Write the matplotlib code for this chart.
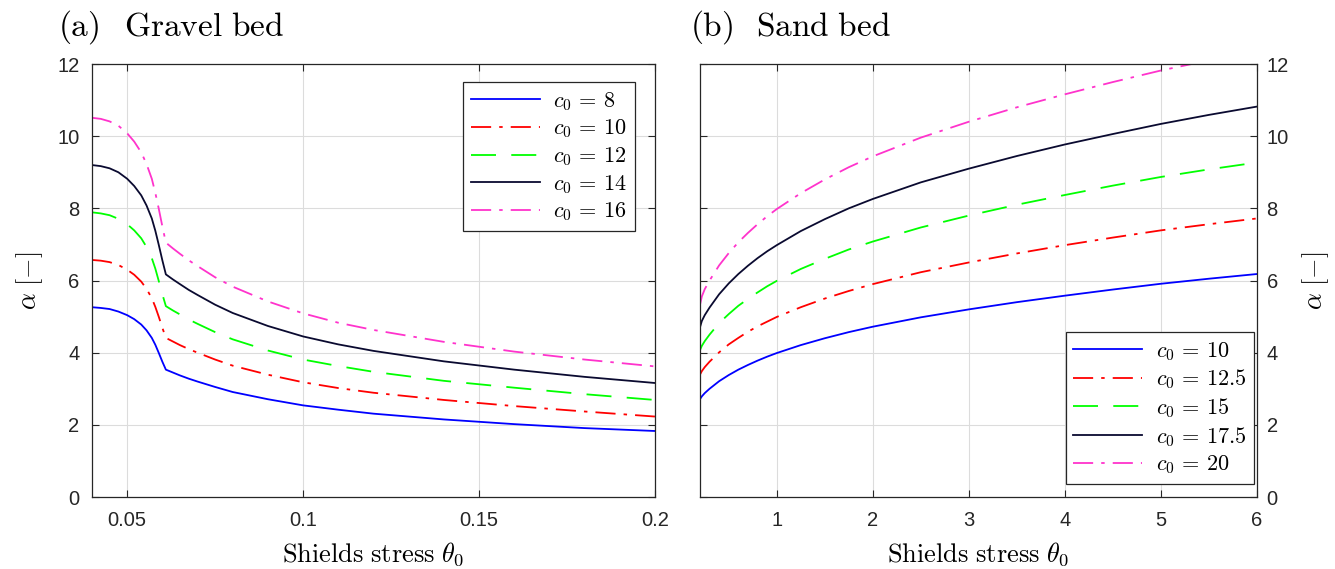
import numpy as np
import matplotlib
matplotlib.use('Agg')
import matplotlib.pyplot as plt

plt.rcParams['mathtext.fontset'] = 'cm'
plt.rcParams['font.family'] = ['Liberation Sans', 'DejaVu Sans']
plt.rcParams['lines.scale_dashes'] = False

# (a) gravel bed
theta_gravel = [0.04, 0.0425, 0.045, 0.0475, 0.05, 0.052, 0.054, 0.0555, 0.057, 0.058,
                0.059, 0.06, 0.061, 0.063, 0.065, 0.0675, 0.07, 0.075, 0.08, 0.09,
                0.1, 0.11, 0.12, 0.14, 0.16, 0.18, 0.2]
alpha_gravel_c8 = [5.26, 5.24, 5.21, 5.14, 5.04, 4.93, 4.78, 4.62, 4.41, 4.22,
                   3.99, 3.75, 3.53, 3.45, 3.37, 3.28, 3.20, 3.05, 2.91, 2.71,
                   2.54, 2.42, 2.31, 2.15, 2.02, 1.91, 1.83]
alpha_gravel_c10 = [6.57, 6.55, 6.51, 6.43, 6.30, 6.16, 5.97, 5.77, 5.51, 5.27,
                    4.99, 4.69, 4.41, 4.31, 4.21, 4.10, 4.00, 3.81, 3.64, 3.39,
                    3.18, 3.02, 2.89, 2.69, 2.52, 2.37, 2.23]
alpha_gravel_c12 = [7.89, 7.86, 7.81, 7.71, 7.56, 7.39, 7.17, 6.93, 6.62, 6.33,
                    5.98, 5.62, 5.29, 5.17, 5.06, 4.92, 4.80, 4.57, 4.37, 4.06,
                    3.81, 3.63, 3.47, 3.22, 3.03, 2.85, 2.69]
alpha_gravel_c14 = [9.20, 9.17, 9.11, 9.00, 8.82, 8.62, 8.36, 8.08, 7.72, 7.38,
                    6.98, 6.56, 6.17, 6.03, 5.90, 5.74, 5.60, 5.33, 5.10, 4.74,
                    4.45, 4.23, 4.05, 3.76, 3.53, 3.33, 3.16]
alpha_gravel_c16 = [10.51, 10.48, 10.41, 10.29, 10.08, 9.85, 9.55, 9.23, 8.82, 8.43,
                    7.98, 7.50, 7.05, 6.89, 6.74, 6.56, 6.40, 6.09, 5.83, 5.42,
                    5.09, 4.83, 4.63, 4.30, 4.03, 3.81, 3.62]
gravel_labels = ['8', '10', '12', '14', '16']

# (b) sand bed
theta_sand = [0.2, 0.22, 0.25, 0.3, 0.4, 0.5, 0.6, 0.7, 0.8, 0.9, 1.0, 1.25,
              1.5, 1.75, 2, 2.5, 3, 3.5, 4, 4.5, 5, 5.5, 6]
alpha_sand_c10 = [2.71, 2.79, 2.88, 3.00, 3.21, 3.38, 3.53, 3.66, 3.78, 3.89, 3.99, 4.21,
                  4.40, 4.57, 4.72, 4.98, 5.20, 5.40, 5.58, 5.75, 5.91, 6.05, 6.18]
alpha_sand_c125 = [3.39, 3.49, 3.60, 3.75, 4.01, 4.23, 4.41, 4.58, 4.73, 4.86, 4.99, 5.26,
                   5.50, 5.71, 5.90, 6.23, 6.50, 6.75, 6.98, 7.19, 7.39, 7.56, 7.72]
alpha_sand_c15 = [4.07, 4.19, 4.32, 4.50, 4.82, 5.07, 5.30, 5.49, 5.67, 5.84, 5.99, 6.32,
                  6.60, 6.86, 7.08, 7.47, 7.80, 8.10, 8.37, 8.63, 8.87, 9.08, 9.27]
alpha_sand_c175 = [4.70, 4.88, 5.04, 5.25, 5.62, 5.92, 6.18, 6.41, 6.62, 6.81, 6.98, 7.37,
                   7.70, 8.00, 8.26, 8.72, 9.10, 9.45, 9.77, 10.06, 10.34, 10.59, 10.82]
alpha_sand_c20 = [5.32, 5.56, 5.76, 6.00, 6.42, 6.76, 7.06, 7.32, 7.56, 7.78, 7.98, 8.42,
                  8.80, 9.14, 9.44, 9.96, 10.40, 10.80, 11.16, 11.50, 11.82, 12.10, 12.36]
sand_labels = ['10', '12.5', '15', '17.5', '20']

colors = ['#0000ff', '#ff0000', '#00ff00', '#0a0a30', '#ff33cc']
styles = ['-', (0, (14.5, 5.8, 2.5, 5.8)), (0, (18, 11)), '-', (0, (14.5, 5.8, 2.5, 5.8))]

fig = plt.figure(figsize=(13.35, 5.69), dpi=100)
ax1 = fig.add_axes([0.0689, 0.1265, 0.4217, 0.761])
ax2 = fig.add_axes([0.5243, 0.1265, 0.4172, 0.761])

gravel = [alpha_gravel_c8, alpha_gravel_c10, alpha_gravel_c12, alpha_gravel_c14, alpha_gravel_c16]
sand = [alpha_sand_c10, alpha_sand_c125, alpha_sand_c15, alpha_sand_c175, alpha_sand_c20]

for i in range(5):
    ax1.plot(theta_gravel, gravel[i], color=colors[i], ls=styles[i], lw=1.3,
             label=r'$c_0 \,=\, %s$' % gravel_labels[i])
    ax2.plot(theta_sand, sand[i], color=colors[i], ls=styles[i], lw=1.3,
             label=r'$c_0 \,=\, %s$' % sand_labels[i])

for ax in [ax1, ax2]:
    ax.set_ylim(0, 12)
    ax.set_yticks([0, 2, 4, 6, 8, 10, 12])
    ax.grid(True, color='#dcdcdc', lw=0.8)
    ax.set_axisbelow(True)
    for s in ax.spines.values():
        s.set_color('#262626')
        s.set_linewidth(0.9)
    ax.tick_params(direction='in', length=5, width=0.8, colors='#262626',
                   labelsize=14.5, top=True, bottom=True, left=True, right=True)
    ax.tick_params(axis='x', pad=10)
    ax.set_xlabel(r'$\mathrm{Shields\ stress}\ \theta_0$', fontsize=19)
    ax.xaxis.set_label_coords(0.5, -0.1)
    ax.set_ylabel(r'$\alpha\ [-]$', fontsize=19)

ax1.set_xlim(0.04, 0.2)
ax1.set_xticks([0.05, 0.1, 0.15, 0.2])
ax1.set_xticklabels(['0.05', '0.1', '0.15', '0.2'])
ax1.tick_params(axis='y', pad=9)
ax1.yaxis.set_label_coords(-0.083, 0.5)

ax2.set_xlim(0.2, 6)
ax2.set_xticks([1, 2, 3, 4, 5, 6])
ax2.yaxis.tick_right()
ax2.yaxis.set_label_position('right')
ax2.tick_params(axis='y', left=True, right=True, labelleft=False, labelright=True, pad=7)
ax2.yaxis.set_label_coords(1.078, 0.5)

leg_kw = dict(fontsize=16, handlelength=3.1, handletextpad=0.6, labelspacing=0.22,
              borderpad=0.35, borderaxespad=0, fancybox=False, framealpha=1,
              edgecolor='#262626')
l1 = ax1.legend(loc='upper right', bbox_to_anchor=(0.9645, 0.958), **leg_kw)
l2 = ax2.legend(loc='lower right', bbox_to_anchor=(0.995, 0.03), **leg_kw)
for l in [l1, l2]:
    l.get_frame().set_linewidth(0.9)

fig.text(58 / 1335, 1 - 27 / 569, r'$\mathrm{(a)}$', fontsize=24, va='center')
fig.text(124 / 1335, 1 - 27 / 569, r'$\mathrm{Gravel\ bed}$', fontsize=24, va='center')
fig.text(690 / 1335, 1 - 27 / 569, r'$\mathrm{(b)}$', fontsize=24, va='center')
fig.text(756 / 1335, 1 - 27 / 569, r'$\mathrm{Sand\ bed}$', fontsize=24, va='center')

fig.savefig('out.png', dpi=100)
